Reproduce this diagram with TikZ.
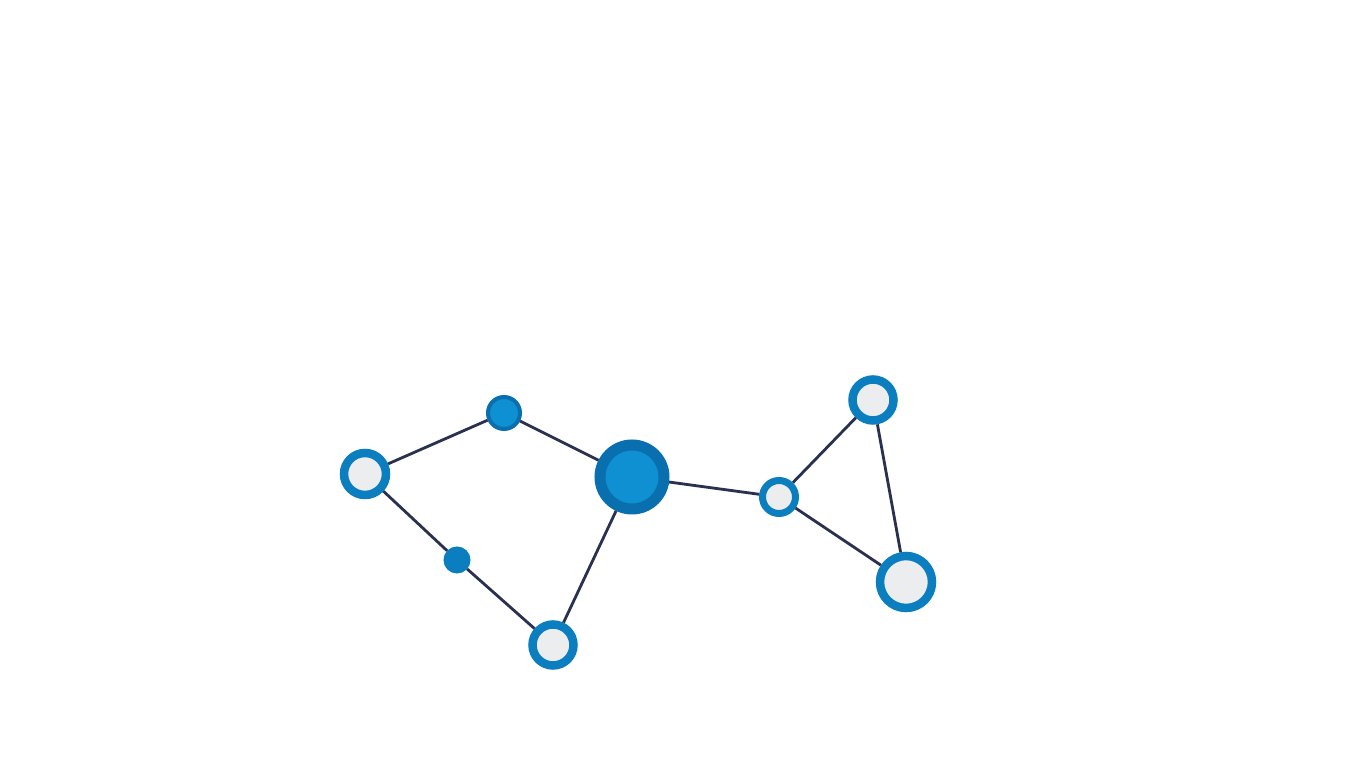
\documentclass[tikz,border=0pt]{standalone}
\definecolor{anneau}{HTML}{0B7EC0}
\definecolor{bleufonce}{HTML}{0A6FAE}
\definecolor{bleuclair}{HTML}{0E90D2}
\definecolor{gris}{HTML}{ECEDEF}
\definecolor{arete}{HTML}{2A3150}
\tikzset{
  creux/.style={circle, draw=anneau, fill=gris, line width=0.17cm, inner sep=0pt, minimum size=#1},
  plein/.style={circle, draw=bleufonce, fill=bleuclair, inner sep=0pt, minimum size=#1},
  lien/.style={draw=arete, line width=1.6pt}
}
\begin{document}
\begin{tikzpicture}
    \useasboundingbox[fill=white] (0,0) rectangle (27.32,15.36);
    %noeuds
    \node[creux=0.84cm] (a) at (7.30,5.88) {};
    \node[plein=0.64cm, line width=0.08cm] (b) at (10.08,7.10) {};
    \node[plein=1.28cm, line width=0.22cm] (c) at (12.64,5.82) {};
    \node[plein=0.52cm, draw=anneau, fill=anneau, line width=0.02cm] (d) at (9.14,4.16) {};
    \node[creux=0.82cm] (e) at (11.06,2.46) {};
    \node[creux=0.66cm, line width=0.14cm] (f) at (15.58,5.42) {};
    \node[creux=0.82cm] (g) at (17.46,7.36) {};
    \node[creux=1.04cm] (h) at (18.12,3.72) {};
    %aretes
    \draw[lien] (a) -- (b);
    \draw[lien] (b) -- (c);
    \draw[lien] (a) -- (d);
    \draw[lien] (d) -- (e);
    \draw[lien] (e) -- (c);
    \draw[lien] (c) -- (f);
    \draw[lien] (f) -- (g);
    \draw[lien] (f) -- (h);
    \draw[lien] (g) -- (h);
\end{tikzpicture}
\end{document}
